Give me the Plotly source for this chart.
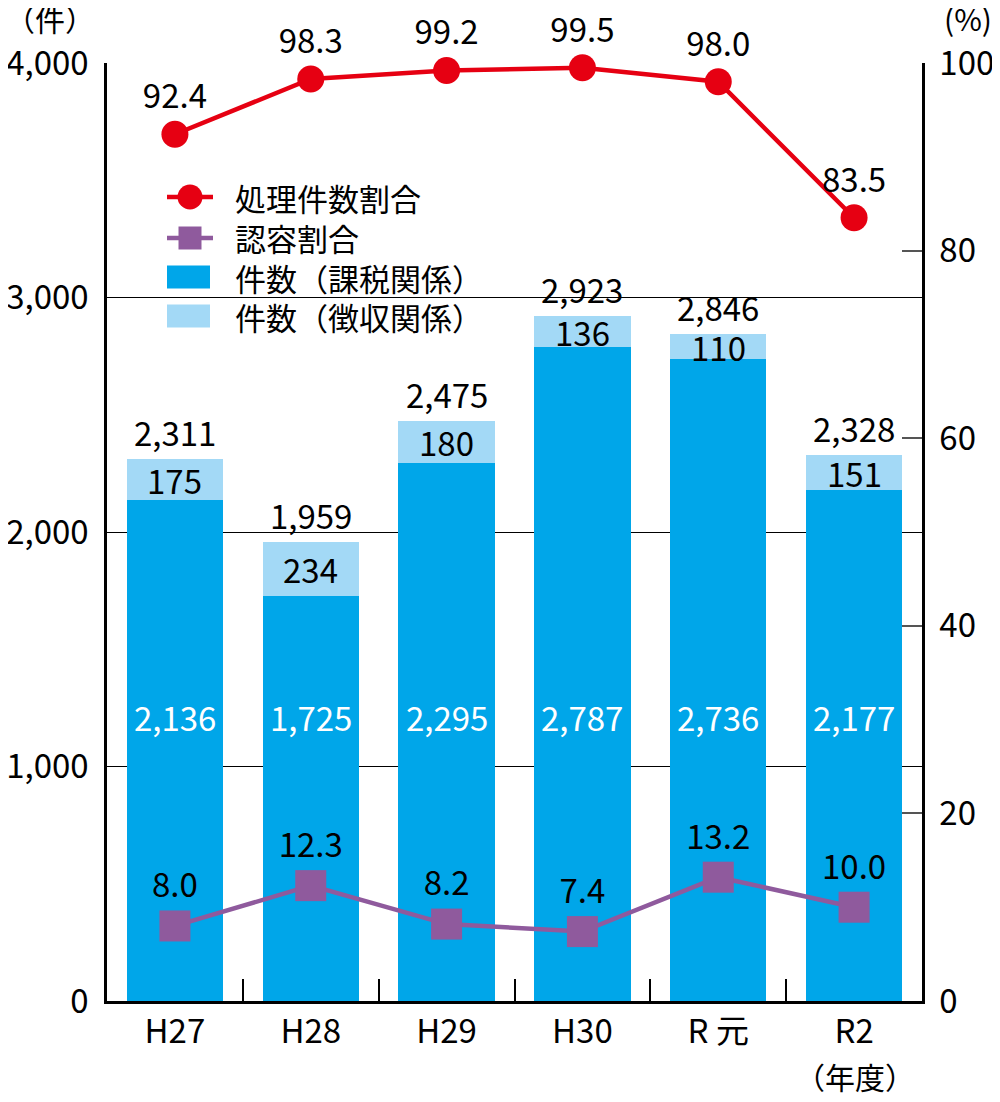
import plotly.graph_objects as go

categories = ["H27", "H28", "H29", "H30", "R 元", "R2"]
kazei = [2136, 1725, 2295, 2787, 2736, 2177]      # 件数（課税関係）
choshu = [175, 234, 180, 136, 110, 151]            # 件数（徴収関係）
totals = [2311, 1959, 2475, 2923, 2846, 2328]
shori_ratio = [92.4, 98.3, 99.2, 99.5, 98.0, 83.5]  # 処理件数割合 (%)
nin_ratio = [8.0, 12.3, 8.2, 7.4, 13.2, 10.0]       # 認容割合 (%)
left_ticks = [0, 1000, 2000, 3000, 4000]
right_ticks = [0, 20, 40, 60, 80, 100]
series_names = ["処理件数割合", "認容割合", "件数（課税関係）", "件数（徴収関係）"]

FONT = "Noto Sans CJK JP"
FS = 33
DARK = "#00A6E9"
LIGHT = "#A3D9F6"
RED = "#E60012"
PURPLE = "#8F5A9D"

# page body has an 8px margin; figure is sized/positioned to compensate
OFF = 8
W, H = 1000 - OFF, 1102 - OFF
PL, PR, PT, PB = 107 - OFF, 922 - OFF, 63 - OFF, 1001 - OFF  # plot area in figure px


def px_to_paper(x, y):
    return (x - OFF - PL) / (PR - PL), (PB - (y - OFF)) / (PB - PT)


fig = go.Figure()

fig.add_trace(go.Bar(
    x=categories, y=kazei, name=series_names[2], marker=dict(color=DARK, line=dict(width=0)),
    width=0.71, showlegend=False,
))
fig.add_trace(go.Bar(
    x=categories, y=choshu, name=series_names[3], marker=dict(color=LIGHT, line=dict(width=0)),
    width=0.71, showlegend=False,
))
fig.add_trace(go.Scatter(
    x=categories, y=shori_ratio, yaxis="y2", name=series_names[0],
    mode="lines+markers+text", text=[f"{v:.1f}" for v in shori_ratio],
    textposition="top center", textfont=dict(size=FS, color="black"),
    line=dict(color=RED, width=4.5), marker=dict(symbol="circle", size=27, color=RED),
    cliponaxis=False, showlegend=False,
))
fig.add_trace(go.Scatter(
    x=categories, y=nin_ratio, yaxis="y2", name=series_names[1],
    mode="lines+markers+text", text=[f"{v:.1f}" for v in nin_ratio],
    textposition="top center", textfont=dict(size=FS, color="black"),
    line=dict(color=PURPLE, width=4.5), marker=dict(symbol="square", size=31, color=PURPLE),
    cliponaxis=False, showlegend=False,
))

annotations = []
for c, t in zip(categories, totals):
    annotations.append(dict(x=c, y=t, xref="x", yref="y", text=f"{t:,}", showarrow=False,
                            yanchor="bottom", yshift=1, font=dict(size=FS, color="black")))
for c, k, s in zip(categories, kazei, choshu):
    annotations.append(dict(x=c, y=k + s / 2, xref="x", yref="y", text=str(s), showarrow=False,
                            font=dict(size=FS, color="black")))
for c, v in zip(categories, kazei):
    annotations.append(dict(x=c, y=1210, xref="x", yref="y", text=f"{v:,}", showarrow=False,
                            font=dict(size=FS, color="white")))

for txt, (px, py) in [("（件）", (50, 18)), ("(%)", (968, 18)), ("（年度）", (855, 1076))]:
    ax, ay = px_to_paper(px, py)
    annotations.append(dict(x=ax, y=ay, xref="paper", yref="paper", text=txt, showarrow=False,
                            xanchor="center", yanchor="middle", font=dict(size=30, color="black")))

# ---- custom legend (swatches sized like the original) ----
shapes = []
row_y = [197, 238, 277, 316]
sx0, sx1, scx = 167, 213, 190
for i, (nm, ry) in enumerate(zip(series_names, row_y)):
    tx, ty = px_to_paper(233, ry)
    annotations.append(dict(x=tx, y=ty, xref="paper", yref="paper", text=nm, showarrow=False,
                            xanchor="left", yanchor="middle", font=dict(size=31, color="black")))
    if i < 2:
        col = RED if i == 0 else PURPLE
        a0, b0 = px_to_paper(sx0, ry)
        a1, _ = px_to_paper(sx1, ry)
        shapes.append(dict(type="line", xref="paper", yref="paper", x0=a0, x1=a1, y0=b0, y1=b0,
                           line=dict(color=col, width=4.5)))
        r = 12.5 if i == 0 else 11.5
        c0x, c0y = px_to_paper(scx - r, ry + r)
        c1x, c1y = px_to_paper(scx + r, ry - r)
        shapes.append(dict(type="circle" if i == 0 else "rect", xref="paper", yref="paper",
                           x0=c0x, x1=c1x, y0=c0y, y1=c1y, fillcolor=col, line=dict(width=0)))
    else:
        col = DARK if i == 2 else LIGHT
        r0x, r0y = px_to_paper(167, ry + 11.5)
        r1x, r1y = px_to_paper(210, ry - 11.5)
        shapes.append(dict(type="rect", xref="paper", yref="paper", x0=r0x, x1=r1x, y0=r0y, y1=r1y,
                           fillcolor=col, line=dict(width=0)))

fig.update_layout(
    width=W, height=H,
    margin=dict(l=PL, r=W - PR, t=PT, b=H - PB, autoexpand=False),
    paper_bgcolor="white", plot_bgcolor="white",
    font=dict(family=FONT, size=FS, color="black"),
    barmode="stack",
    showlegend=False,
    xaxis=dict(range=[-0.5, 5.5], showline=True, linecolor="black", linewidth=2.5,
               ticks="inside", tickson="boundaries", ticklen=22, tickcolor="black", tickwidth=1.5,
               tickfont=dict(size=FS), showgrid=False, automargin=False),
    yaxis=dict(range=[0, 4000], tickvals=left_ticks, ticktext=[f"{v:,}" for v in left_ticks],
               showline=True, linecolor="black", linewidth=2.5, showgrid=True,
               gridcolor="black", gridwidth=1.3, ticks="", tickfont=dict(size=FS),
               zeroline=False, automargin=False, ticklabelstandoff=9),
    yaxis2=dict(range=[0, 100], tickvals=right_ticks, overlaying="y", side="right",
                showline=True, linecolor="black", linewidth=2.5, showgrid=False,
                ticks="inside", ticklen=20, tickcolor="#555", tickwidth=1.5,
                tickfont=dict(size=FS), zeroline=False, automargin=False, ticklabelstandoff=8),
    annotations=annotations,
    shapes=shapes,
)

fig.write_html("out.html")
